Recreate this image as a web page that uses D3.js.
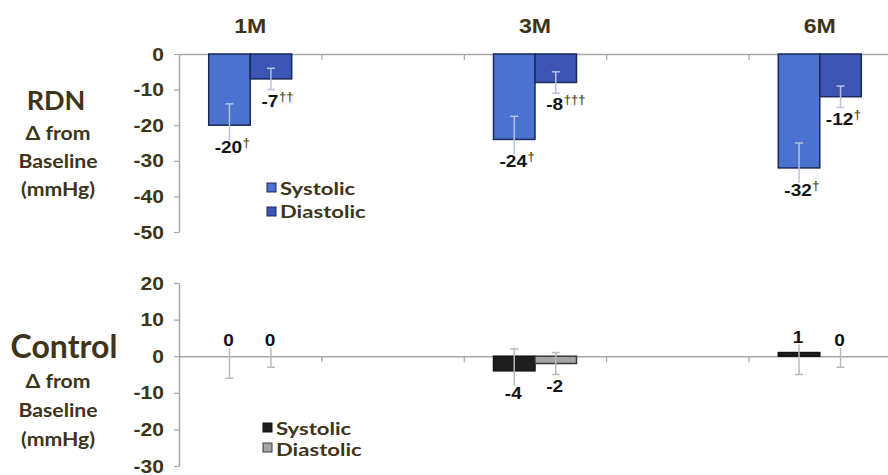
<!DOCTYPE html>
<html>
<head>
<meta charset="utf-8">
<script src="https://cdn.jsdelivr.net/npm/d3@7"></script>
<style>
  body { margin: 0; background: #fff; }
  svg { display: block; }
</style>
</head>
<body>
<svg id="chart" width="888" height="475"></svg>
<script>
// Follow-up periods; the in-between slots are left empty as spacing
const months = ["1M", "3M", "6M"];
const slots = ["1M", "1M-3M", "3M", "3M-6M", "6M"];
const series = ["Systolic", "Diastolic"];

// RDN group: change from baseline (mmHg)
const rdnSystolic = [-20, -24, -32];
const rdnDiastolic = [-7, -8, -12];
const rdnSystolicErr = [6, 6.5, 7];
const rdnDiastolicErr = [3, 3, 3];
const rdnSystolicMarks = ["†", "†", "†"];
const rdnDiastolicMarks = ["††", "†††", "†"];

// Control group: change from baseline (mmHg)
const ctlSystolic = [0, -4, 1];
const ctlDiastolic = [0, -2, 0];
const ctlSystolicErr = [6, 6, 6];
const ctlDiastolicErr = [3, 3, 3];
const ctlSystolicMarks = ["", "", ""];
const ctlDiastolicMarks = ["", "", ""];

const rdnTicks = [0, -10, -20, -30, -40, -50];
const ctlTicks = [20, 10, 0, -10, -20, -30];

const svg = d3.select("#chart");
const textDark = "#3d3419";
const axisGrey = "#a6a6a6";
const numFont = "'Liberation Sans', Arial, sans-serif";
const labelFont = "Lato, 'Open Sans', sans-serif";

// Places a text node at (x, y) with a horizontal stretch factor
function wideText(parent, x, y, sx, anchor) {
  return parent.append("text")
    .attr("transform", `translate(${x},${y}) scale(${sx},1)`)
    .attr("text-anchor", anchor);
}

const xLeft = 179, xRight = 891;
const x = d3.scaleBand().domain(slots).range([xLeft, xRight]);
const xs = d3.scaleBand().domain(series).range([0, x.bandwidth()]).paddingOuter(0.716);
const xSlot = d3.scaleLinear().domain([0, slots.length]).range([xLeft, xRight]);

// Period headings
months.forEach(m => {
  wideText(svg, x(m) + x.bandwidth() / 2, 33, 1.1, "middle")
    .attr("font-family", numFont).attr("font-weight", "bold").attr("font-size", 21)
    .attr("fill", textDark).text(m);
});

const panels = [
  {
    title: "RDN", titleSize: 27, titleX: 56, titleY: 110, subY: [140, 168, 196],
    domain: [-50, 0], range: [232, 54], ticks: rdnTicks,
    values: [rdnSystolic, rdnDiastolic], errs: [rdnSystolicErr, rdnDiastolicErr],
    marks: [rdnSystolicMarks, rdnDiastolicMarks],
    fills: ["#4b72cf", "#3c54b3"], strokes: ["#1c285a", "#1c285a"], errColor: "#b7c2dc",
    legendX: 267, legendY: [183, 207], legendTextY: [195, 218]
  },
  {
    title: "Control", titleSize: 32, titleX: 64, titleY: 358, subY: [388, 417, 446],
    domain: [-30, 20], range: [466, 283], ticks: ctlTicks,
    values: [ctlSystolic, ctlDiastolic], errs: [ctlSystolicErr, ctlDiastolicErr],
    marks: [ctlSystolicMarks, ctlDiastolicMarks],
    fills: ["#1e1e1e", "#a5a5a5"], strokes: ["#111111", "#3a3a3a"], errColor: "#bababa",
    legendX: 263, legendY: [423, 443], legendTextY: [435, 456]
  }
];

panels.forEach(p => {
  const y = d3.scaleLinear().domain(p.domain).range(p.range);
  const g = svg.append("g");

  // Side caption
  g.append("text")
    .attr("x", p.titleX).attr("y", p.titleY).attr("text-anchor", "middle")
    .attr("font-family", labelFont).attr("font-weight", "bold").attr("font-size", p.titleSize)
    .attr("fill", textDark).text(p.title);
  ["Δ from", "Baseline", "(mmHg)"].forEach((t, i) => {
    wideText(g, 58, p.subY[i], 1.18, "middle")
      .attr("font-family", labelFont).attr("font-weight", "bold").attr("font-size", 18)
      .attr("fill", textDark).text(t);
  });

  // Value axis
  const yAxis = g.append("g")
    .attr("transform", `translate(${xLeft},0)`)
    .call(d3.axisLeft(y).tickValues(p.ticks).tickSize(5).tickSizeOuter(0).tickFormat(""));
  yAxis.select(".domain").attr("stroke", axisGrey).attr("stroke-width", 1.5);
  yAxis.selectAll(".tick line").attr("stroke", axisGrey).attr("stroke-width", 1.2);
  p.ticks.forEach(t => {
    wideText(g, 164, y(t) + 6.5, 1.17, "end")
      .attr("font-family", numFont).attr("font-weight", "bold").attr("font-size", 18)
      .attr("fill", textDark).text(String(t));
  });

  // Category axis at zero with ticks between periods
  const xAxis = g.append("g")
    .attr("transform", `translate(0,${y(0)})`)
    .call(d3.axisBottom(xSlot).tickValues(d3.range(1, slots.length)).tickSize(6)
      .tickSizeOuter(0).tickFormat(""));
  xAxis.select(".domain").attr("stroke", axisGrey).attr("stroke-width", 1.5);
  xAxis.selectAll(".tick line").attr("stroke", axisGrey).attr("stroke-width", 1.2);

  series.forEach((s, si) => {
    const rows = months.map((m, i) => ({
      m, v: p.values[si][i], e: p.errs[si][i], mark: p.marks[si][i],
      cx: x(m) + xs(s) + xs.bandwidth() / 2
    }));

    g.selectAll(null).data(rows).join("rect")
      .attr("x", d => x(d.m) + xs(s))
      .attr("width", xs.bandwidth())
      .attr("y", d => y(Math.max(0, d.v)))
      .attr("height", d => Math.abs(y(d.v) - y(0)))
      .attr("fill", p.fills[si])
      .attr("stroke", p.strokes[si])
      .attr("stroke-width", 1.5);

    // Error bars
    const eb = g.selectAll(null).data(rows).join("g").attr("stroke", p.errColor).attr("stroke-width", 1.5);
    eb.append("line")
      .attr("x1", d => d.cx).attr("x2", d => d.cx)
      .attr("y1", d => y(d.v + d.e)).attr("y2", d => y(d.v - d.e));
    eb.append("line")
      .attr("x1", d => d.cx - 4).attr("x2", d => d.cx + 4)
      .attr("y1", d => y(d.v + d.e)).attr("y2", d => y(d.v + d.e));
    eb.append("line")
      .attr("x1", d => d.cx - 4).attr("x2", d => d.cx + 4)
      .attr("y1", d => y(d.v - d.e)).attr("y2", d => y(d.v - d.e));

    // Value labels with significance daggers
    const sxLab = 1.12;
    rows.forEach(d => {
      const base = d.v < 0 ? y(d.v) + 28 : y(d.v) - 10;
      const cx = d.cx - 1;
      const bg = g.append("rect").attr("fill", "#fff");
      const t = wideText(g, cx, base, sxLab, "middle")
        .attr("font-family", numFont).attr("font-weight", "bold").attr("font-size", 17)
        .attr("fill", "#141414").text(d.v);
      const bb = t.node().getBBox();
      const w = bb.width * sxLab;
      bg.attr("x", cx - w / 2 - 1).attr("y", base + bb.y + 2)
        .attr("width", w + 2).attr("height", bb.height - 4);
      if (d.mark) {
        g.append("text")
          .attr("x", cx + w / 2 + 0.5).attr("y", base - 6)
          .attr("font-family", numFont).attr("font-weight", "bold").attr("font-size", 13)
          .attr("fill", "#5e4c26").text(d.mark);
      }
    });

    // Legend entry
    g.append("rect")
      .attr("x", p.legendX).attr("y", p.legendY[si]).attr("width", 9).attr("height", 9)
      .attr("fill", p.fills[si]).attr("stroke", p.strokes[si]).attr("stroke-width", 1);
    wideText(g, p.legendX + 13, p.legendTextY[si], 1.3, "start")
      .attr("font-family", labelFont).attr("font-weight", "bold").attr("font-size", 17)
      .attr("fill", textDark).text(s);
  });
});
</script>
</body>
</html>
